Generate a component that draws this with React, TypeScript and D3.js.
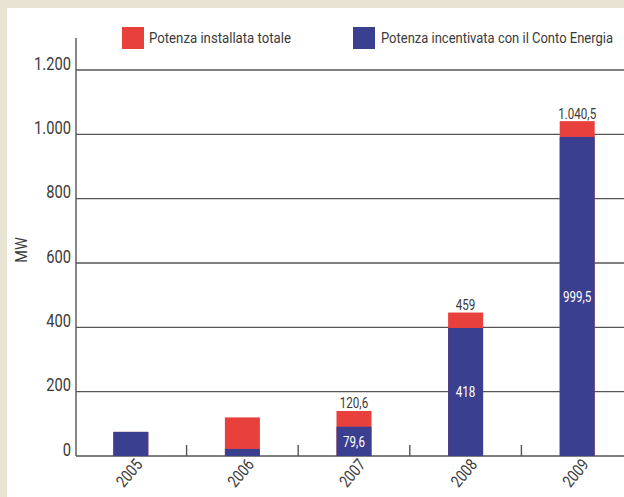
import React from "react";
import * as d3 from "d3";

const years = ["2005", "2006", "2007", "2008", "2009"];
// bar heights as drawn in the picture (MW)
const totalDrawn = [75, 120, 140, 446, 1041];
const incentDrawn = [75, 22, 91, 398, 992];
// printed value labels
const totalLabels = ["", "", "120,6", "459", "1.040,5"];
const incentLabels = ["", "", "79,6", "418", "999,5"];
const yTicks = [0, 200, 400, 600, 800, 1000, 1200];
const yTickLabels = ["0", "200", "400", "600", "800", "1.000", "1.200"];
const legendLabels = ["Potenza installata totale", "Potenza incentivata con il Conto Energia"];

const W = 624;
const H = 497;
const RED = "#e8413d";
const BLUE = "#3b3f8f";
const GRID = "#555";
const TXT = "#3a3a3a";
const FONT = "Roboto, 'Liberation Sans', sans-serif";

type CTProps = {
  x: number;
  y: number;
  sx?: number;
  rot?: number;
  anchor?: string;
  size: number;
  fill?: string;
  dy?: string;
  children: React.ReactNode;
};

function CText({ x, y, sx = 0.8, rot = 0, anchor = "start", size, fill = TXT, dy, children }: CTProps) {
  return (
    <text
      transform={`translate(${x},${y}) rotate(${rot}) scale(${sx},1)`}
      textAnchor={anchor}
      fontSize={size}
      fill={fill}
      dy={dy}
    >
      {children}
    </text>
  );
}

export default function App() {
  const x = d3.scaleBand<string>().domain(years).range([75, 633]).padding(0);
  const y = d3.scaleLinear().domain([0, 1200]).range([456, 70]);
  const bw = 35;
  const cx = (yr: string) => (x(yr) as number) + x.bandwidth() / 2;

  return (
    <svg
      width={W}
      height={H}
      style={{ position: "absolute", left: 0, top: 0, fontFamily: FONT }}
    >
      <rect x={0} y={0} width={W} height={H} fill="#e8e3d3" />
      <rect x={7} y={8} width={W - 7} height={H - 8} fill="#ffffff" />

      {/* legend */}
      <rect x={122} y={27} width={22} height={22} fill={RED} />
      <text x={149} y={43} fontSize={14.5} fill={TXT} textLength={142} lengthAdjust="spacingAndGlyphs">
        {legendLabels[0]}
      </text>
      <rect x={353} y={27} width={22} height={22} fill={BLUE} />
      <text x={381} y={43} fontSize={14.5} fill={TXT} textLength={232} lengthAdjust="spacingAndGlyphs">
        {legendLabels[1]}
      </text>

      {/* gridlines */}
      {yTicks.map((t, i) => (
        <g key={t}>
          <line x1={76} x2={W} y1={y(t)} y2={y(t)} stroke={GRID} strokeWidth={1.4} />
          <CText x={71} y={y(t) - 0.5} anchor="end" size={17.5} sx={0.84}>
            {yTickLabels[i]}
          </CText>
        </g>
      ))}
      {/* y axis */}
      <line x1={76} x2={76} y1={38} y2={y(0)} stroke={GRID} strokeWidth={1.4} />
      <CText x={27} y={250} rot={-90} anchor="middle" size={17} sx={0.85}>
        MW
      </CText>

      {/* category separator ticks */}
      {years.slice(1).map((yr) => (
        <line
          key={"t" + yr}
          x1={x(yr) as number}
          x2={x(yr) as number}
          y1={y(0) - 11}
          y2={y(0)}
          stroke={GRID}
          strokeWidth={1.4}
        />
      ))}

      {/* bars */}
      {years.map((yr, i) => {
        const c = cx(yr);
        return (
          <g key={yr}>
            <rect
              x={c - bw / 2}
              y={y(totalDrawn[i])}
              width={bw}
              height={y(0) - y(totalDrawn[i])}
              fill={RED}
            />
            <rect
              x={c - bw / 2}
              y={y(incentDrawn[i])}
              width={bw}
              height={y(0) - y(incentDrawn[i])}
              fill={BLUE}
            />
            {totalLabels[i] && (
              <CText x={c} y={y(totalDrawn[i]) - 2.5} anchor="middle" size={14.5} sx={0.8}>
                {totalLabels[i]}
              </CText>
            )}
            {incentLabels[i] && (
              <CText
                x={c}
                y={(y(incentDrawn[i]) + y(0)) / 2}
                dy="0.36em"
                anchor="middle"
                size={14.5}
                sx={0.8}
                fill="#ffffff"
              >
                {incentLabels[i]}
              </CText>
            )}
            <CText x={c + 12.5} y={y(0) + 9} rot={-50} anchor="end" size={16.5} sx={0.82}>
              {yr}
            </CText>
          </g>
        );
      })}
    </svg>
  );
}
